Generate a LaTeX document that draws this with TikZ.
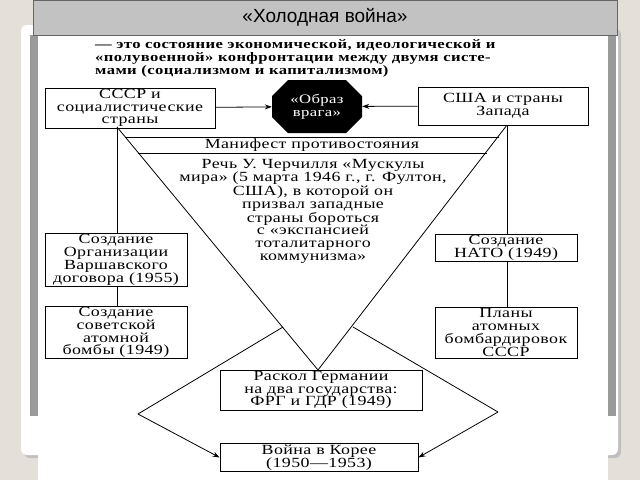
\documentclass[tikz,border=0pt]{standalone}
\usepackage{fontspec}
\setmainfont{Liberation Serif}[FakeStretch=1.28,LetterSpace=3]
\setsansfont{Liberation Sans}
\usetikzlibrary{shapes.geometric,arrows.meta}
\definecolor{bg}{HTML}{E4E0D9}
\definecolor{tbar}{HTML}{C2C2C2}
\definecolor{frame}{HTML}{9A9A9A}
\tikzset{
 bx/.style={draw,thick,align=center,font=\fontsize{14}{12.8}\selectfont,inner sep=1pt},
 ln/.style={thick},
 ar/.style={thick,-{Stealth[length=7pt,width=5pt]}},
 tx/.style={align=center,font=\fontsize{14}{12.4}\selectfont,inner sep=0pt}
}
\begin{document}
\begin{tikzpicture}[x=1pt,y=-1pt]
\useasboundingbox (0,0) rectangle (640,480);
\fill[bg] (0,0) rectangle (640,480);
\fill[black!25,rounded corners=6pt] (24,29) rectangle (621,458);
\fill[white,rounded corners=6pt] (21,25) rectangle (618,455);
\fill[frame] (30,35) rectangle (616,416);
\fill[white] (38,35) rectangle (608,410);
\fill[white] (38,410) rectangle (608,480);
\node[draw=black!60,fill=tbar,minimum width=584pt,minimum height=35pt,inner sep=0pt,font=\sffamily\fontsize{19}{20}\selectfont] (title) at (325,17.5) {«Холодная война»};
\node[anchor=north west,align=left,inner sep=0pt,font=\bfseries\fontsize{13}{13.3}\selectfont] (intro) at (95,39) {— это состояние экономической, идеологической и\\«полувоенной» конфронтации между двумя систе-\\мами (социализмом и капитализмом)};
\node[bx,minimum width=170pt,minimum height=38pt] (ussr) at (130,108) {СССР и\\социалистические\\страны};
\node[bx,minimum width=170pt,minimum height=38pt] (usa) at (503,106) {США и страны\\Запада};
\fill (272,96) -- (288,80) -- (346,80) -- (362,96) -- (362,117) -- (346,133) -- (288,133) -- (272,117) -- cycle;
\node[text=white,align=center,inner sep=0pt,minimum width=90pt,minimum height=53pt,font=\fontsize{13}{13}\selectfont] (enemy) at (317,106.5) {«Образ\\врага»};
\draw[ar] (ussr) -- (enemy);
\draw[ar] (usa) -- (enemy);
\coordinate (L) at (117,127);
\coordinate (R) at (507,125);
\coordinate (A) at (318,370);
\node[tx] (man) at (312,145) {Манифест противостояния};
\draw[ln] (125,137) -- (499,137);
\draw[ln] (138,153) -- (487,153);
\node[tx,font=\fontsize{14}{12.6}\selectfont] (speech) at (313,211) {Речь У. Черчилля «Мускулы\\мира» (5 марта 1946 г., г. Фултон,\\США), в которой он\\призвал западные\\страны бороться\\с «экспансией\\тоталитарного\\коммунизма»};
\node[bx,minimum width=142pt,minimum height=50pt] (warsaw) at (116,260) {Создание\\Организации\\Варшавского\\договора (1955)};
\node[bx,minimum width=142pt,minimum height=51pt] (bomb) at (116,332.5) {Создание\\советской\\атомной\\бомбы (1949)};
\node[bx,minimum width=142pt,minimum height=27pt] (nato) at (506,247.5) {Создание\\НАТО (1949)};
\node[bx,minimum width=142pt,minimum height=51pt] (plans) at (506,332.5) {Планы\\атомных\\бомбардировок\\СССР};
\node[bx,minimum width=202pt,minimum height=40pt] (split) at (321,390) {Раскол Германии\\на два государства:\\ФРГ и ГДР (1949)};
\node[bx,minimum width=198pt,minimum height=27pt] (korea) at (319,457.5) {Война в Корее\\(1950—1953)};
\draw[ln] (L) -- (A) -- (R);
\draw[ln] (L) -- (L|-warsaw.north);
\draw[ln] (L|-warsaw.south) -- (L|-bomb.north);
\draw[ln] (R) -- (R|-nato.north);
\draw[ln] (R|-nato.south) -- (R|-plans.north);
\coordinate (P1) at (283,327);
\coordinate (P2) at (353,327);
\coordinate (Q1) at (138,414);
\coordinate (Q2) at (498,412);
\draw[ln] (P1) -- (Q1);
\draw[ar] (Q1) -- (korea.west);
\draw[ln] (P2) -- (Q2);
\draw[ar] (Q2) -- (korea.east);
\end{tikzpicture}
\end{document}
